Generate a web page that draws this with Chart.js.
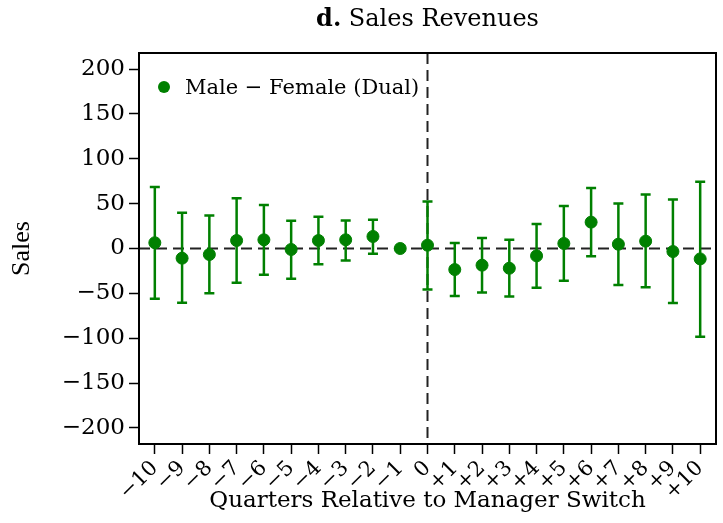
<!DOCTYPE html>
<html>
<head>
<meta charset="utf-8">
<script src="https://cdn.jsdelivr.net/npm/chart.js@4.4.1/dist/chart.umd.min.js"></script>
<style>
  body { margin: 0; background: #fff; }
  #wrap { position: relative; width: 723px; height: 523px; }
  #title {
    position: absolute; left: 0; top: 6px; width: 855px; text-align: center;
    font-family: "DejaVu Serif", serif; font-size: 24px; line-height: 24px; color: #000;
  }
  #legend {
    position: absolute; left: 158px; top: 74px; height: 26px;
    display: flex; align-items: center;
    font-family: "DejaVu Serif", serif; font-size: 21px; color: #000;
  }
  #legend .dot { width: 12px; height: 12px; border-radius: 50%; background: #008000; margin-right: 15px; }
</style>
</head>
<body>
<div id="wrap">
  <canvas id="myChart" width="723" height="523"></canvas>
  <div id="title"><b>d.</b> Sales Revenues</div>
  <div id="legend"><span class="dot"></span><span>Male − Female (Dual)</span></div>
</div>
<script>
// quarters relative to the manager switch
const quarters = [-10, -9, -8, -7, -6, -5, -4, -3, -2, -1, 0, 1, 2, 3, 4, 5, 6, 7, 8, 9, 10];
// point estimates and confidence interval bounds
const estimates = [6.4, -10.8, -6.7, 8.9, 9.7, -1.1, 8.9, 9.7, 13.4, 0, 3.7, -23.5, -18.6, -22, -8.2, 5.6, 29.4, 4.8, 8.2, -3.4, -11.6];
const ciHigh = [68.5, 39.8, 36.9, 55.9, 48.4, 30.9, 35.4, 31.3, 32, null, 52.5, 6, 11.6, 9.7, 27.2, 47.3, 67.4, 50.3, 60.3, 54.7, 74.5];
const ciLow = [-56, -60.5, -49.8, -38.2, -29.3, -33.7, -17.5, -13.4, -5.9, null, -45.6, -52.9, -49.2, -53.6, -43.9, -36.1, -8.6, -40.6, -43.2, -60.7, -98.3];
const yTicks = [-200, -150, -100, -50, 0, 50, 100, 150, 200];

const green = '#008000';
const fmtY = v => v < 0 ? '\u2212' + Math.abs(v) : String(v);
const fmtX = v => v < 0 ? '\u2212' + Math.abs(v) : (v > 0 ? '+' + v : '0');

const errorBars = {
  id: 'errorBars',
  beforeDatasetsDraw(chart) {
    const {ctx, chartArea: a, scales: {x, y}} = chart;
    ctx.save();
    const y0 = y.getPixelForValue(0), x0 = x.getPixelForValue(0);
    ctx.strokeStyle = '#222';
    ctx.lineWidth = 2;
    ctx.setLineDash([11, 6]);
    ctx.beginPath();
    ctx.moveTo(a.left, y0); ctx.lineTo(a.right, y0);
    ctx.moveTo(x0, a.top); ctx.lineTo(x0, a.bottom);
    ctx.stroke();
    ctx.setLineDash([]);
    ctx.strokeStyle = green;
    ctx.lineWidth = 2.5;
    quarters.forEach((q, i) => {
      if (ciLow[i] == null) return;
      const px = x.getPixelForValue(q);
      const lo = y.getPixelForValue(ciLow[i]);
      const hi = y.getPixelForValue(ciHigh[i]);
      ctx.beginPath();
      ctx.moveTo(px, lo); ctx.lineTo(px, hi);
      ctx.moveTo(px - 5, lo); ctx.lineTo(px + 5, lo);
      ctx.moveTo(px - 5, hi); ctx.lineTo(px + 5, hi);
      ctx.stroke();
    });
    ctx.restore();
  },
  afterDraw(chart) {
    const {ctx, chartArea: a} = chart;
    ctx.save();
    ctx.strokeStyle = '#000';
    ctx.lineWidth = 2;
    ctx.strokeRect(a.left, a.top, a.right - a.left, a.bottom - a.top);
    ctx.restore();
  }
};

const data = {
  datasets: [{
    label: 'Male \u2212 Female (Dual)',
    data: quarters.map((q, i) => ({x: q, y: estimates[i]})),
    backgroundColor: green,
    borderColor: green,
    pointRadius: 6,
    pointHoverRadius: 6,
    showLine: false
  }]
};

const options = {
  responsive: false,
  animation: false,
  layout: { padding: { top: 53, right: 7, left: 0, bottom: 0 } },
  plugins: {
    legend: { display: false },
    title: { display: false },
    tooltip: { enabled: false }
  },
  scales: {
    x: {
      type: 'linear',
      min: -10.58,
      max: 10.58,
      afterBuildTicks: s => { s.ticks = quarters.map(v => ({value: v})); },
      afterFit: s => { s.height = 79; },
      grid: { drawOnChartArea: false, tickLength: 10, tickColor: '#000', tickWidth: 1.5 },
      border: { display: false },
      ticks: {
        autoSkip: false,
        minRotation: 45,
        maxRotation: 45,
        padding: 2,
        color: '#000',
        font: { family: 'DejaVu Serif', size: 21 },
        callback: v => fmtX(v)
      },
      title: {
        display: true,
        text: 'Quarters Relative to Manager Switch',
        color: '#000',
        font: { family: 'DejaVu Serif', size: 23 },
        padding: { top: 0, bottom: 8 }
      }
    },
    y: {
      min: -218,
      max: 218,
      afterBuildTicks: s => { s.ticks = yTicks.map(v => ({value: v})); },
      afterFit: s => { s.width = 139; },
      grid: { drawOnChartArea: false, tickLength: 10, tickColor: '#000', tickWidth: 1.5 },
      border: { display: false },
      ticks: {
        padding: 4,
        color: '#000',
        font: { family: 'DejaVu Serif', size: 23 },
        callback: v => fmtY(v)
      },
      title: {
        display: true,
        text: 'Sales',
        color: '#000',
        font: { family: 'Liberation Serif', size: 26 },
        padding: { top: 7, bottom: 0 }
      }
    }
  }
};

const config = {
  type: 'scatter',
  data: data,
  options: options,
  plugins: [errorBars]
};

const myChart = new Chart(document.getElementById('myChart'), config);
</script>
</body>
</html>
